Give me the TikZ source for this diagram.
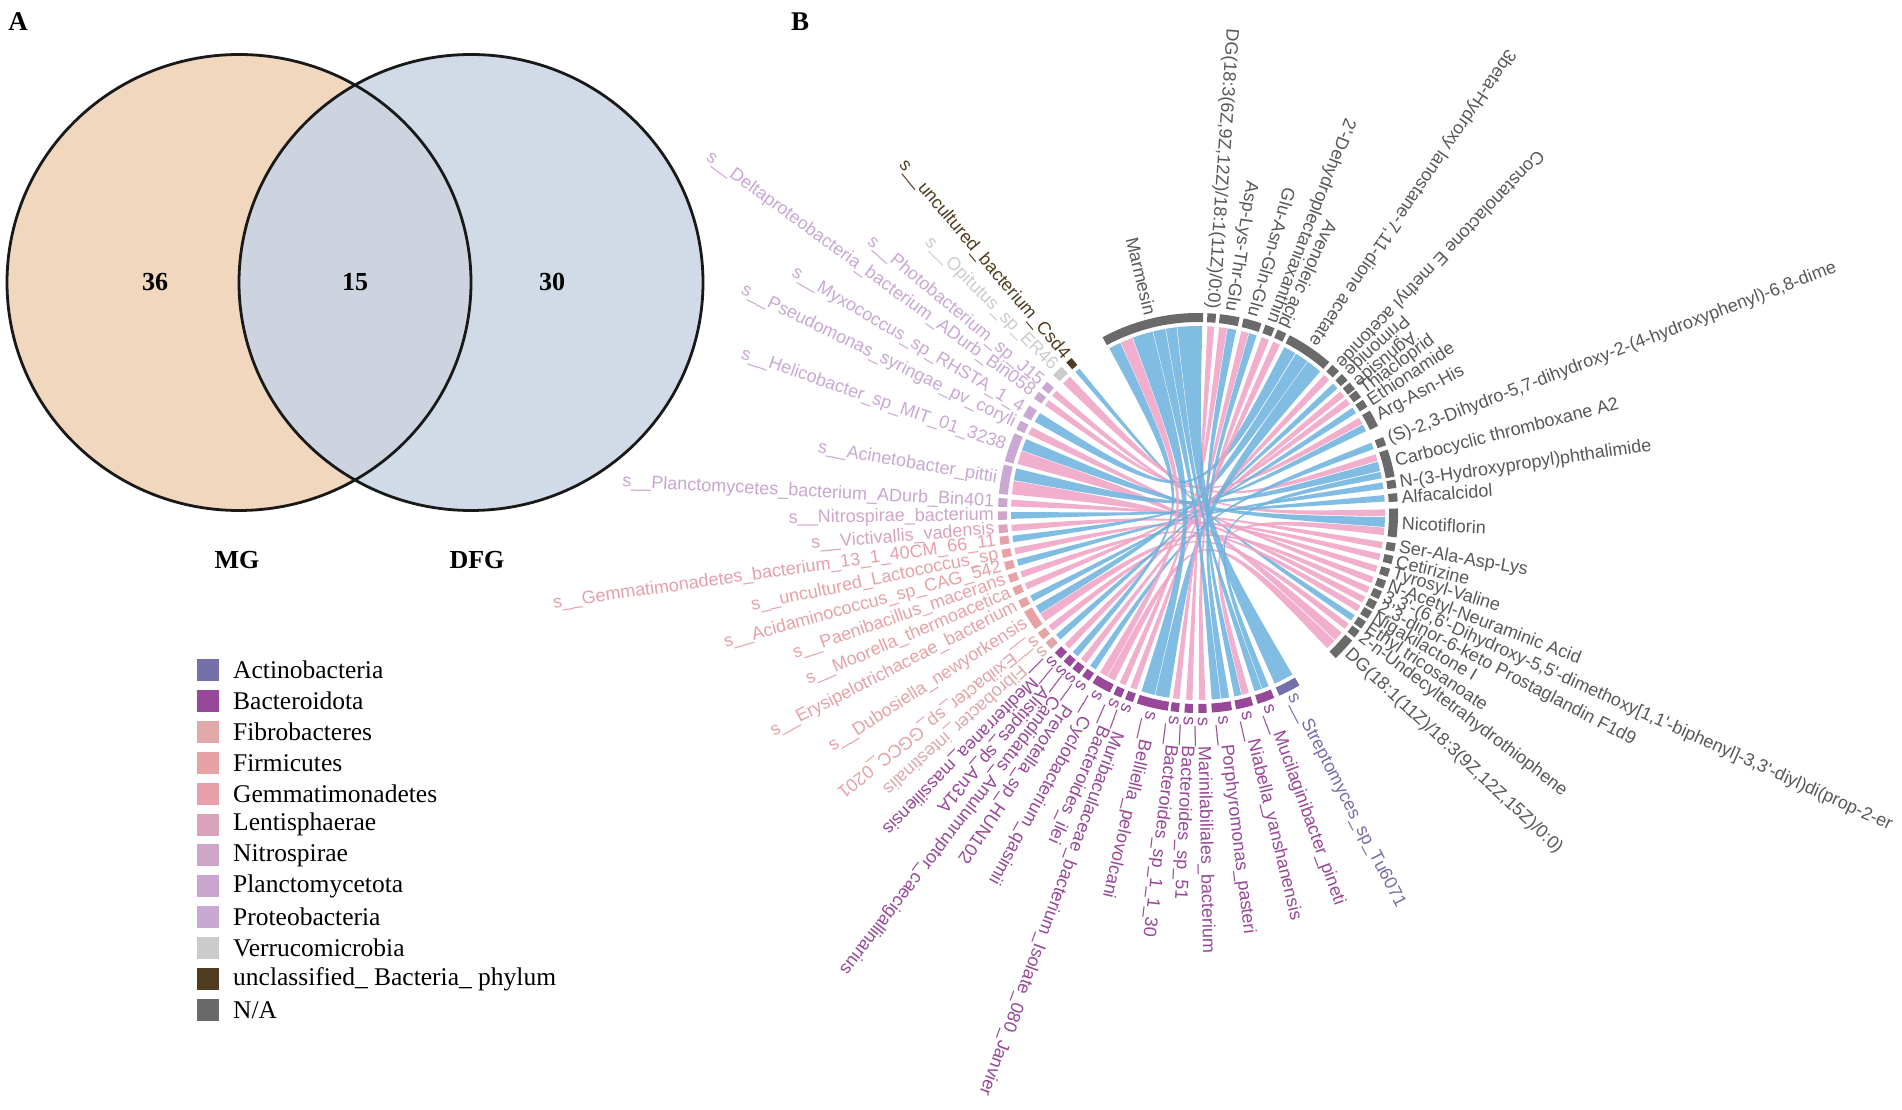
\documentclass[tikz,border=0pt]{standalone}
\usepackage{fontspec}
\setmainfont{Liberation Serif}
\newfontfamily\labf{Liberation Sans}
\newcommand{\apos}{\textquotesingle}
\definecolor{vL}{RGB}{240,215,189}
\definecolor{vR}{RGB}{208,219,231}
\definecolor{vO}{RGB}{205,212,223}
\definecolor{cAct}{RGB}{117,112,170}
\definecolor{cBac}{RGB}{152,72,152}
\definecolor{cFib}{RGB}{224,168,168}
\definecolor{cFir}{RGB}{231,162,166}
\definecolor{cGem}{RGB}{231,160,170}
\definecolor{cLen}{RGB}{219,162,188}
\definecolor{cNit}{RGB}{207,166,200}
\definecolor{cPla}{RGB}{201,166,208}
\definecolor{cPro}{RGB}{201,168,212}
\definecolor{cVer}{RGB}{204,204,204}
\definecolor{cUnc}{RGB}{80,60,30}
\definecolor{cNA}{RGB}{106,106,106}
\definecolor{tNA}{RGB}{88,88,88}
\definecolor{ribB}{RGB}{108,178,221}
\definecolor{ribP}{RGB}{240,162,197}
\newcommand{\seg}[3]{\fill[#3] (#1:191) arc[start angle=#1,end angle=#2,radius=191] -- (#2:200) arc[start angle=#2,end angle=#1,radius=200] -- cycle;}
\newcommand{\rib}[5]{\fill[#5] (#1:187) arc[start angle=#1,end angle=#2,radius=187] .. controls (0,0) .. (#3:187) arc[start angle=#3,end angle=#4,radius=187] .. controls (0,0) .. (#1:187) -- cycle;}
\newcommand{\lbl}[4]{%
  \pgfmathsetmacro{\lblang}{mod(#2+540,360)-180}%
  \pgfmathsetmacro{\lblflag}{(\lblang>-143)*(\lblang<38)}%
  \ifdim\lblflag pt>0.5pt
    \node[lab,text=#3,rotate=\lblang,anchor=west] (#1) at (\lblang:204) {#4};%
  \else
    \pgfmathsetmacro{\lblrot}{\lblang+180}%
    \node[lab,text=#3,rotate=\lblrot,anchor=east] (#1) at (\lblang:204) {#4};%
  \fi}
\newcommand{\legrow}[4]{%
  \fill[#2] (197,{450-30.9*#1}) rectangle (219,{428-30.9*#1});
  \node[legtxt] (#4) at (233,{439-30.9*#1}) {#3};}
\begin{document}
\begin{tikzpicture}[x=1pt,y=1pt,
  lab/.style={font={\labf\fontsize{18}{20}\selectfont},inner sep=0pt},
  legtxt/.style={font={\fontsize{25.5}{28}\selectfont},anchor=west,inner sep=0pt},
  big/.style={font={\bfseries\fontsize{26}{28}\selectfont},inner sep=0pt},
  rb/.style={fill=ribB,fill opacity=0.85},
  rp/.style={fill=ribP,fill opacity=0.85}]
\useasboundingbox (0,0) rectangle (1902,1109);
\clip (0,0) rectangle (1902,1109);
\fill[white] (0,0) rectangle (1902,1109);
% ---------- Venn ----------
\fill[vL] (239,826.5) ellipse[x radius=232,y radius=228];
\fill[vR] (471,826.5) ellipse[x radius=232,y radius=228];
\begin{scope}
\clip (239,826.5) ellipse[x radius=232,y radius=228];
\fill[vO] (471,826.5) ellipse[x radius=232,y radius=228];
\end{scope}
\draw[line width=2.8pt,black!90] (239,826.5) ellipse[x radius=232,y radius=228];
\draw[line width=2.8pt,black!90] (471,826.5) ellipse[x radius=232,y radius=228];
\node[big] (n36) at (155,827) {36};
\node[big] (n15) at (355,827) {15};
\node[big] (n30) at (552,827) {30};
\node[big] (mg) at (237,549) {MG};
\node[big] (dfg) at (477,549) {DFG};
\node[big,font={\bfseries\fontsize{27}{29}\selectfont}] (pa) at (18,1087) {A};
\node[big,font={\bfseries\fontsize{27}{29}\selectfont}] (pb) at (800,1087) {B};
% ---------- legend ----------
\legrow{0}{cAct}{Actinobacteria}{lg0}
\legrow{1}{cBac}{Bacteroidota}{lg1}
\legrow{2}{cFib}{Fibrobacteres}{lg2}
\legrow{3}{cFir}{Firmicutes}{lg3}
\legrow{4}{cGem}{Gemmatimonadetes}{lg4}
\legrow{5}{cLen}{Lentisphaerae}{lg5}
\legrow{6}{cNit}{Nitrospirae}{lg6}
\legrow{7}{cPla}{Planctomycetota}{lg7}
\legrow{8}{cPro}{Proteobacteria}{lg8}
\legrow{9}{cVer}{Verrucomicrobia}{lg9}
\legrow{10}{cUnc}{unclassified\_ Bacteria\_ phylum}{lg10}
\legrow{11}{cNA}{N/A}{lg11}
% ---------- chord ----------
\begin{scope}[shift={(1198,596)}]
% ribbons
\rib{129.4}{131.0}{-35.1}{-33.1}{rb}
\rib{133.2}{136.2}{16.2}{18.3}{rp}
\rib{139.2}{141.2}{-1.0}{1.1}{rp}
\rib{142.9}{144.9}{28.5}{30.6}{rp}
\rib{147.7}{150.8}{58.7}{62.5}{rb}
\rib{152.7}{155.1}{-22.0}{-20.0}{rp}
\rib{156.7}{160.4}{-4.3}{-1.3}{rb}
\rib{160.6}{164.8}{-42.8}{-39.8}{rp}
\rib{166.2}{169.9}{13.0}{15.9}{rb}
\rib{170.1}{174.3}{-28.6}{-26.6}{rp}
\rib{175.9}{178.0}{-10.9}{-8.9}{rp}
\rib{179.7}{181.8}{3.5}{5.5}{rb}
\rib{183.6}{185.6}{-18.4}{-16.4}{rp}
\rib{187.0}{189.0}{26.0}{28.2}{rb}
\rib{190.8}{192.8}{-14.6}{-12.6}{rp}
\rib{194.4}{196.4}{7.4}{9.4}{rb}
\rib{198.2}{200.2}{-31.7}{-29.7}{rp}
\rib{202.1}{204.1}{35.6}{37.6}{rp}
\rib{206.2}{208.2}{32.3}{34.3}{rb}
\rib{209.8}{212.4}{54.2}{58.4}{rb}
\rib{212.6}{215.3}{-25.3}{-23.3}{rp}
\rib{217.0}{219.0}{-38.3}{-36.3}{rp}
\rib{220.6}{222.6}{41.8}{43.8}{rb}
\rib{224.5}{226.5}{38.5}{40.5}{rp}
\rib{228.0}{230.0}{114.6}{118.3}{rb}
\rib{231.3}{233.3}{45.4}{47.6}{rp}
\rib{234.8}{236.8}{20.0}{22.1}{rb}
\rib{238.4}{240.9}{110.6}{114.4}{rp}
\rib{241.1}{243.6}{-46.3}{-43.1}{rp}
\rib{245.2}{247.2}{81.1}{83.5}{rp}
\rib{248.8}{250.8}{64.0}{66.3}{rp}
\rib{252.4}{256.6}{104.1}{110.4}{rb}
\rib{256.8}{261.1}{49.2}{54.0}{rb}
\rib{262.3}{264.3}{74.3}{76.6}{rp}
\rib{266.3}{268.3}{85.0}{87.1}{rp}
\rib{270.3}{272.3}{67.7}{70.1}{rp}
\rib{274.2}{276.9}{100.1}{103.9}{rb}
\rib{277.1}{279.6}{71.7}{74.1}{rb}
\rib{281.2}{283.4}{78.2}{80.9}{rb}
\rib{283.6}{285.8}{-6.8}{-4.5}{rp}
\rib{287.6}{289.9}{96.6}{99.9}{rb}
\rib{290.1}{292.2}{10.7}{12.7}{rb}
\rib{294.2}{300.3}{88.7}{96.4}{rb}
% metabolite segments
\seg{88.5}{118.5}{cNA}
\seg{84.8}{87.3}{cNA}
\seg{78}{83.7}{cNA}
\seg{71.5}{76.8}{cNA}
\seg{67.5}{70.3}{cNA}
\seg{63.8}{66.5}{cNA}
\seg{49}{62.7}{cNA}
\seg{45.2}{47.8}{cNA}
\seg{41.6}{44}{cNA}
\seg{38.3}{40.7}{cNA}
\seg{35.4}{37.8}{cNA}
\seg{32.1}{34.5}{cNA}
\seg{25.8}{30.8}{cNA}
\seg{19.8}{22.3}{cNA}
\seg{10.5}{18.5}{cNA}
\seg{7.2}{9.6}{cNA}
\seg{3.3}{5.7}{cNA}
\seg{-7}{1.3}{cNA}
\seg{-11.1}{-8.7}{cNA}
\seg{-14.8}{-12.4}{cNA}
\seg{-18.6}{-16.2}{cNA}
\seg{-22.2}{-19.8}{cNA}
\seg{-25.5}{-23.1}{cNA}
\seg{-28.8}{-26.4}{cNA}
\seg{-31.9}{-29.5}{cNA}
\seg{-35.3}{-32.9}{cNA}
\seg{-38.5}{-36.1}{cNA}
\seg{-46.5}{-39.6}{cNA}
% species segments
\seg{129.2}{131.2}{cUnc}
\seg{133}{136.4}{cVer}
\seg{139}{141.4}{cPro}
\seg{142.7}{145.1}{cPro}
\seg{147.5}{151}{cPro}
\seg{152.5}{155.3}{cPro}
\seg{156.5}{165}{cPro}
\seg{166}{174.5}{cPro}
\seg{175.7}{178.2}{cPla}
\seg{179.5}{182}{cNit}
\seg{183.4}{185.8}{cLen}
\seg{186.8}{189.2}{cGem}
\seg{190.6}{193}{cFir}
\seg{194.2}{196.6}{cFir}
\seg{198}{200.4}{cFir}
\seg{201.9}{204.3}{cFir}
\seg{206}{208.4}{cFir}
\seg{209.6}{215.5}{cFir}
\seg{216.8}{219.2}{cFir}
\seg{220.4}{222.8}{cFib}
\seg{224.3}{226.7}{cBac}
\seg{227.8}{230.2}{cBac}
\seg{231.1}{233.5}{cBac}
\seg{234.6}{237}{cBac}
\seg{238.2}{243.8}{cBac}
\seg{245}{247.4}{cBac}
\seg{248.6}{251}{cBac}
\seg{252.2}{261.3}{cBac}
\seg{262.1}{264.5}{cBac}
\seg{266.1}{268.5}{cBac}
\seg{270.1}{272.5}{cBac}
\seg{274}{279.8}{cBac}
\seg{281}{286}{cBac}
\seg{287.4}{292.4}{cBac}
\seg{294}{300.5}{cAct}
% metabolite labels
\lbl{m1}{103.5}{tNA}{Marmesin}
\lbl{m2}{86.05}{tNA}{DG(18:3(6Z,9Z,12Z)/18:1(11Z)/0:0)}
\lbl{m3}{80.85}{tNA}{Asp-Lys-Thr-Glu}
\lbl{m4}{74.15}{tNA}{Glu-Asn-Gln-Glu}
\lbl{m5}{68.9}{tNA}{2\apos-Dehydroplectaniaxanthin}
\lbl{m6}{65.15}{tNA}{Avenoleic acid}
\lbl{m7}{55.85}{tNA}{3beta-Hydroxy lanostane-7,11-dione acetate}
\lbl{m8}{46.5}{tNA}{Constanolactone E methyl acetonide}
\lbl{m9}{42.8}{tNA}{Primonide}
\lbl{m10}{39.5}{tNA}{Agnuside}
\lbl{m11}{36.6}{tNA}{Thiacloprid}
\lbl{m12}{33.3}{tNA}{Ethionamide}
\lbl{m13}{28.3}{tNA}{Arg-Asn-His}
\lbl{m14}{21.05}{tNA}{(S)-2,3-Dihydro-5,7-dihydroxy-2-(4-hydroxyphenyl)-6,8-dime}
\lbl{m15}{14.5}{tNA}{Carbocyclic thromboxane A2}
\lbl{m16}{8.4}{tNA}{N-(3-Hydroxypropyl)phthalimide}
\lbl{m17}{4.5}{tNA}{Alfacalcidol}
\lbl{m18}{-2.85}{tNA}{Nicotiflorin}
\lbl{m19}{-9.9}{tNA}{Ser-Ala-Asp-Lys}
\lbl{m20}{-13.6}{tNA}{Cetirizine}
\lbl{m21}{-17.4}{tNA}{Tyrosyl-Valine}
\lbl{m22}{-21}{tNA}{N-Acetyl-Neuraminic Acid}
\lbl{m23}{-24.3}{tNA}{3,3\apos-(6,6\apos-Dihydroxy-5,5\apos-dimethoxy[1,1\apos-biphenyl]-3,3\apos-diyl)di(prop-2-er}
\lbl{m24}{-27.6}{tNA}{2,3-dinor-6-keto Prostaglandin F1d9}
\lbl{m25}{-30.7}{tNA}{Nigakilactone I}
\lbl{m26}{-34.1}{tNA}{Ethyl tricosanoate}
\lbl{m27}{-37.3}{tNA}{2-n-Undecyltetrahydrothiophene}
\lbl{m28}{-43}{tNA}{DG(18:1(11Z)/18:3(9Z,12Z,15Z)/0:0)}
% species labels
\lbl{s1}{130.2}{cUnc}{s\_\_uncultured\_bacterium\_Csd4}
\lbl{s2}{134.7}{cVer}{s\_\_Opitutus\_sp\_ER46}
\lbl{s3}{140.2}{cPro}{s\_\_Photobacterium\_sp\_J15}
\lbl{s4}{143.9}{cPro}{s\_\_Deltaproteobacteria\_bacterium\_ADurb\_Bin058}
\lbl{s5}{149.25}{cPro}{s\_\_Myxococcus\_sp\_RHSTA\_1\_4}
\lbl{s6}{153.9}{cPro}{s\_\_Pseudomonas\_syringae\_pv\_coryli}
\lbl{s7}{160.75}{cPro}{s\_\_Helicobacter\_sp\_MIT\_01\_3238}
\lbl{s8}{170.25}{cPro}{s\_\_Acinetobacter\_pittii}
\lbl{s9}{176.95}{cPla}{s\_\_Planctomycetes\_bacterium\_ADurb\_Bin401}
\lbl{s10}{180.75}{cNit}{s\_\_Nitrospirae\_bacterium}
\lbl{s11}{184.6}{cLen}{s\_\_Victivallis\_vadensis}
\lbl{s12}{188}{cGem}{s\_\_Gemmatimonadetes\_bacterium\_13\_1\_40CM\_66\_11}
\lbl{s13}{191.8}{cFir}{s\_\_uncultured\_Lactococcus\_sp}
\lbl{s14}{195.4}{cFir}{s\_\_Acidaminococcus\_sp\_CAG\_542}
\lbl{s15}{199.2}{cFir}{s\_\_Paenibacillus\_macerans}
\lbl{s16}{203.1}{cFir}{s\_\_Moorella\_thermoacetica}
\lbl{s17}{207.2}{cFir}{s\_\_Erysipelotrichaceae\_bacterium}
\lbl{s18}{212.55}{cFir}{s\_\_Dubosiella\_newyorkensis}
\lbl{s19}{218}{cFir}{s\_\_Exiibacter\_sp\_GGCC\_0201}
\lbl{s20}{221.6}{cFib}{s\_\_Fibrobacter\_intestinalis}
\lbl{s21}{225.5}{cBac}{s\_\_Mediterranea\_massiliensis}
\lbl{s22}{229}{cBac}{s\_\_Alistipes\_sp\_An31A}
\lbl{s23}{232.3}{cBac}{s\_\_Candidatus\_Amulumruptor\_caecigallinarius}
\lbl{s24}{235.8}{cBac}{s\_\_Prevotella\_sp\_HUN102}
\lbl{s25}{241}{cBac}{s\_\_Cyclobacterium\_qasimii}
\lbl{s26}{246.2}{cBac}{s\_\_Bacteroides\_ilei}
\lbl{s27}{249.8}{cBac}{s\_\_Muribaculaceae\_bacterium\_Isolate\_080\_Janvier}
\lbl{s28}{256.75}{cBac}{s\_\_Belliella\_pelovolcani}
\lbl{s29}{263.3}{cBac}{s\_\_Bacteroides\_sp\_1\_1\_30}
\lbl{s30}{267.3}{cBac}{s\_\_Bacteroides\_sp\_51}
\lbl{s31}{271.3}{cBac}{s\_\_Marinilabiliales\_bacterium}
\lbl{s32}{276.9}{cBac}{s\_\_Porphyromonas\_pasteri}
\lbl{s33}{283.5}{cBac}{s\_\_Niabella\_yanshanensis}
\lbl{s34}{289.9}{cBac}{s\_\_Mucilaginibacter\_pineti}
\lbl{s35}{297.25}{cAct}{s\_\_Streptomyces\_sp\_Tu6071}
\end{scope}
\end{tikzpicture}
\end{document}
